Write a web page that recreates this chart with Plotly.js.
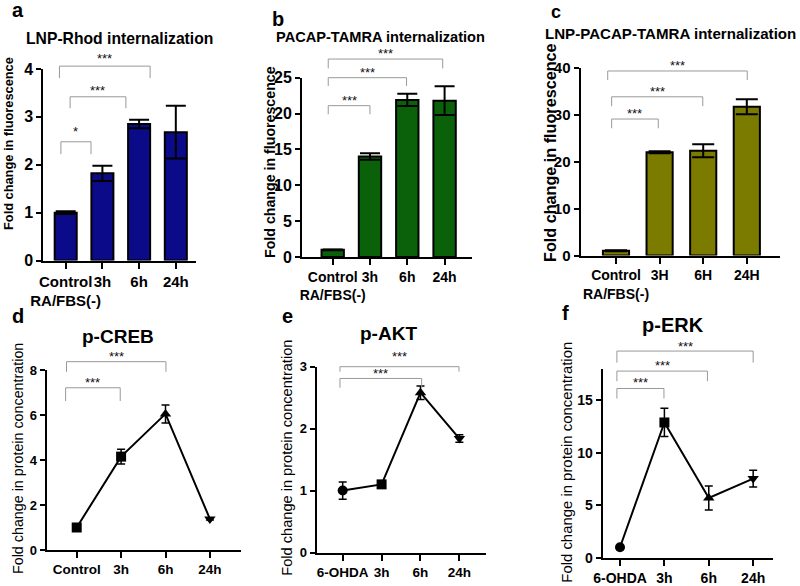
<!DOCTYPE html>
<html>
<head>
<meta charset="utf-8">
<script src="https://cdn.plot.ly/plotly-3.0.1.min.js"></script>
<style>
html,body{margin:0;padding:0;background:#fff;}
#chart{width:800px;height:586px;}
</style>
</head>
<body>
<div id="chart"></div>
<script>
// ---------- data ----------
const catsA = ['Control<br>RA/FBS(-)', '3h', '6h', '24h'];
const valsA = [1.0, 1.82, 2.85, 2.68];
const errA  = [0.03, 0.16, 0.09, 0.55];

const catsB = ['Control<br>RA/FBS(-)', '3h', '6h', '24h'];
const valsB = [1.0, 14.0, 21.9, 21.8];
const errB  = [0.05, 0.45, 0.85, 2.0];

const catsC = ['Control<br>RA/FBS(-)', '3H', '6H', '24H'];
const valsC = [1.0, 22.0, 22.3, 31.7];
const errC  = [0.1, 0.2, 1.4, 1.6];

const catsD = ['Control', '3h', '6h', '24h'];
const valsD = [1.0, 4.15, 6.05, 1.38];
const errD  = [0.04, 0.33, 0.4, 0.05];

const catsE = ['6-OHDA', '3h', '6h', '24h'];
const valsE = [1.0, 1.1, 2.58, 1.84];
const errE  = [0.14, 0.02, 0.11, 0.06];

const catsF = ['6-OHDA', '3h', '6h', '24h'];
const valsF = [1.0, 12.9, 5.7, 7.55];
const errF  = [0.1, 1.35, 1.15, 0.8];

const titles = ['LNP-Rhod internalization', 'PACAP-TAMRA internalization', 'LNP-PACAP-TAMRA internalization', 'p-CREB', 'p-AKT', 'p-ERK'];
const letters = ['a', 'b', 'c', 'd', 'e', 'f'];
const yTitles = ['Fold change in fluorescence', 'Fold change in fluorescence', 'Fold change in fluorescence',
                 'Fold change in protein concentration', 'Fold change in protein concentration', 'Fold change in protein concentration'];

// significance brackets: [xStart, xEnd (category index), yLine, yLegEnd, yText, label]
const bracketsA = [[-0.17, 2.30, 4.06, 3.81, 4.30, '***'], [0.12, 1.64, 3.42, 3.18, 3.63, '***'], [-0.13, 0.69, 2.48, 2.22, 2.77, '*']];
const bracketsB = [[-0.12, 2.95, 27.6, 26.3, 28.9, '***'], [-0.12, 1.98, 25.0, 23.85, 26.3, '***'], [-0.12, 1.0, 21.1, 19.9, 22.4, '***']];
const bracketsC = [[-0.19, 3.01, 39.3, 37.4, 41.3, '***'], [-0.10, 1.99, 33.8, 31.8, 35.8, '***'], [-0.10, 0.97, 29.07, 27.1, 31.1, '***']];
const bracketsD = [[-0.23, 2.01, 8.37, 7.92, 8.79, '***'], [-0.25, 0.98, 7.21, 6.62, 7.63, '***']];
const bracketsE = [[-0.07, 2.99, 3.0, 2.92, 3.23, '***'], [-0.07, 2.03, 2.81, 2.66, 2.96, '***']];
const bracketsF = [[-0.07, 3.0, 19.71, 18.6, 20.57, '***'], [-0.07, 1.97, 17.8, 16.84, 18.76, '***'], [-0.07, 0.99, 16.14, 15.19, 17.1, '***']];

// ---------- layout geometry (pixels) ----------
const W = 800, H = 586;
const px = x => x / W;
const py = y => 1 - y / H;
// [left, right, top, bottom] of each plot area, x range, y max, dtick
const boxes = [
  {l: 43.3, r: 196, t: 69, b: 260.5, xr: [-0.61, 3.55], ymax: 4, dt: 1},
  {l: 302, r: 472, t: 77.7, b: 257, xr: [-0.823, 3.735], ymax: 25, dt: 5},
  {l: 580.5, r: 780, t: 67.7, b: 255.5, xr: [-0.814, 3.761], ymax: 40, dt: 10},
  {l: 46.7, r: 240.7, t: 370, b: 550, xr: [-0.676, 3.694], ymax: 8, dt: 2},
  {l: 316.7, r: 486, t: 366.7, b: 552.5, xr: [-0.668, 3.684], ymax: 3, dt: 1},
  {l: 602.7, r: 772.7, t: 369, b: 557.7, xr: [-0.39, 3.44], ymax: 18, dt: 5}
];
const tickFontSizes = [[15, 16], [14, 16], [14, 15], [13.5, 13], [13.5, 13], [14, 14]];

const FONT = 'Liberation Sans, Arial, Helvetica, sans-serif';

const layout = {
  width: W, height: H,
  margin: {l: 0, r: 0, t: 0, b: 0},
  paper_bgcolor: '#fff', plot_bgcolor: 'rgba(0,0,0,0)',
  showlegend: false,
  font: {family: FONT, color: '#000'},
  shapes: [], annotations: []
};

boxes.forEach((bx, i) => {
  const n = i === 0 ? '' : String(i + 1);
  layout['xaxis' + n] = {
    domain: [px(bx.l), px(bx.r)], anchor: 'y' + n, type: 'category', range: bx.xr, tickangle: 0,
    showline: true, linecolor: '#000', linewidth: 2, ticks: 'outside', ticklen: 6, tickwidth: 2, tickcolor: '#000',
    showgrid: false, zeroline: false, fixedrange: true,
    tickfont: {family: FONT, size: tickFontSizes[i][0], weight: 'bold', color: '#000'}
  };
  layout['yaxis' + n] = {
    domain: [py(bx.b), py(bx.t)], anchor: 'x' + n, range: [0, bx.ymax], dtick: bx.dt, tick0: 0,
    showline: true, linecolor: '#000', linewidth: 2, ticks: 'outside', ticklen: 5, tickwidth: 2, tickcolor: '#000',
    showgrid: false, zeroline: false, fixedrange: true,
    tickfont: {family: FONT, size: tickFontSizes[i][1], weight: 'bold', color: '#000'}
  };
});

// ---------- traces ----------
const barColors = ['#0b0b8a', '#0a610a', '#7b7b00'];
const barSets = [[catsA, valsA, errA], [catsB, valsB, errB], [catsC, valsC, errC]];
const capW = [10, 10, 11];
const data = [];
barSets.forEach((s, i) => {
  const n = i === 0 ? '' : String(i + 1);
  data.push({
    type: 'bar', x: s[0], y: s[1], xaxis: 'x' + n, yaxis: 'y' + n, width: 0.6,
    marker: {color: barColors[i], line: {color: '#000', width: 2}},
    error_y: {type: 'data', array: s[2], visible: true, color: '#000', thickness: 2, width: capW[i]},
    hoverinfo: 'y'
  });
});
const lineSets = [[catsD, valsD, errD, ['square', 'square', 'triangle-up', 'triangle-down']],
                  [catsE, valsE, errE, ['circle', 'square', 'triangle-up', 'triangle-down']],
                  [catsF, valsF, errF, ['circle', 'square', 'triangle-up', 'triangle-down']]];
lineSets.forEach((s, j) => {
  const n = String(j + 4);
  data.push({
    type: 'scatter', mode: 'lines+markers', x: s[0], y: s[1], xaxis: 'x' + n, yaxis: 'y' + n,
    line: {color: '#000', width: 2},
    marker: {color: '#000', size: 10, symbol: s[3]},
    error_y: {type: 'data', array: s[2], visible: true, color: '#000', thickness: 1.5, width: 4},
    cliponaxis: false, hoverinfo: 'y'
  });
});

// ---------- brackets ----------
const allBrackets = [bracketsA, bracketsB, bracketsC, bracketsD, bracketsE, bracketsF];
allBrackets.forEach((list, i) => {
  const n = i === 0 ? '' : String(i + 1);
  const ymax = boxes[i].ymax;
  list.forEach(b => {
    const [x0, x1, yl, yleg, yt, lab] = b;
    const ln = {color: '#999', width: 1};
    const base = {type: 'line', xref: 'x' + n, yref: 'y' + n + ' domain', line: ln, layer: 'above'};
    layout.shapes.push(Object.assign({}, base, {x0: x0, x1: x1, y0: yl / ymax, y1: yl / ymax}));
    layout.shapes.push(Object.assign({}, base, {x0: x0, x1: x0, y0: yl / ymax, y1: yleg / ymax}));
    layout.shapes.push(Object.assign({}, base, {x0: x1, x1: x1, y0: yl / ymax, y1: yleg / ymax}));
    layout.annotations.push({
      xref: 'x' + n, yref: 'y' + n + ' domain', x: (x0 + x1) / 2, y: yt / ymax,
      text: lab, showarrow: false, xanchor: 'center', yanchor: 'middle', yshift: -4,
      font: {family: FONT, size: 13, color: '#111'}
    });
  });
});

// ---------- titles, letters, y titles ----------
const titlePos = [[119, 39, 15.7], [380, 37, 14.6], [670, 34, 15.1], [117.5, 336, 19], [388, 333, 19], [673, 325, 20]];
const letterPos = [[18, 10, 20], [278, 19, 20], [556, 12, 18], [18, 316, 20], [287.5, 316, 20], [565, 313, 20]];
const yTitlePos = [[8, 144, 12.8, 'bold'], [270, 162, 14.2, 'bold'], [550, 153, 16.2, 'bold'],
                   [18, 459, 14.3, 'normal'], [286.7, 458, 14.6, 'normal'], [566.7, 462, 14.9, 'normal']];
titles.forEach((t, i) => {
  layout.annotations.push({
    xref: 'paper', yref: 'paper', x: px(titlePos[i][0]), y: py(titlePos[i][1]), text: t, showarrow: false,
    xanchor: 'center', yanchor: 'middle', font: {family: FONT, size: titlePos[i][2], weight: 'bold', color: '#000'}
  });
  layout.annotations.push({
    xref: 'paper', yref: 'paper', x: px(letterPos[i][0]), y: py(letterPos[i][1]), text: letters[i], showarrow: false,
    xanchor: 'center', yanchor: 'middle', font: {family: FONT, size: letterPos[i][2], weight: 'bold', color: '#000'}
  });
  layout.annotations.push({
    xref: 'paper', yref: 'paper', x: px(yTitlePos[i][0]), y: py(yTitlePos[i][1]), text: yTitles[i], showarrow: false,
    textangle: -90, xanchor: 'center', yanchor: 'middle',
    font: {family: FONT, size: yTitlePos[i][2], weight: yTitlePos[i][3], color: '#000'}
  });
});

Plotly.newPlot('chart', data, layout, {displayModeBar: false, staticPlot: true});
</script>
</body>
</html>
